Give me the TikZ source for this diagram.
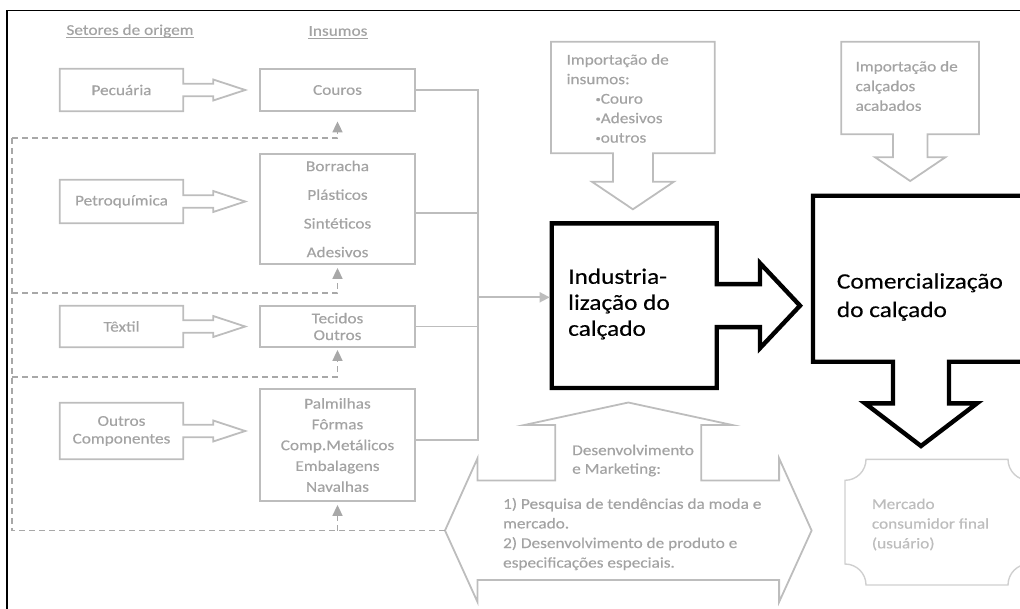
\documentclass[tikz,border=0pt]{standalone}
\usepackage{fontspec}
\setmainfont{Carlito}[FakeStretch=1.15,FakeBold=0.4]
\usetikzlibrary{arrows.meta,calc}
\definecolor{tgray}{HTML}{A3A3A3}
\definecolor{lgray}{HTML}{BDBDBD}
\definecolor{dgray}{HTML}{A8A8A8}
\definecolor{pgray}{HTML}{CFCFCF}
\tikzset{
  gtext/.style={text=tgray, font=\fontsize{15pt}{#1}\selectfont, inner sep=0pt},
  gtext/.default=18pt,
  gline/.style={draw=lgray, line width=1.8pt},
  dline/.style={draw=dgray, line width=1.7pt, dash pattern=on 6pt off 4pt},
  srcbox/.style={gtext=#1, minimum width=123pt, align=center},
  srcbox/.default=18pt,
  inbox/.style={gtext=#1, gline, minimum width=155pt, align=center},
  inbox/.default=18pt,
  bigline/.style={draw=black, line width=4.4pt},
  bigtext/.style={text=black, font=\fontsize{22pt}{#1}\selectfont, inner sep=0pt, align=left},
  upt/.style={-{Triangle[width=10pt,length=11pt]}},
  emptybox/.style={inner sep=0pt, outer sep=0pt},
  uline/.style={draw=tgray, line width=0.9pt},
}
\newcommand\srcoutline[1]{%
  \draw[gline] (#1.north west) -- (#1.north east) -- ([yshift=6.2pt]#1.east)
    -- ++(30,0) -- ++(0,-4.3) -- ++(32,10.5) -- ++(-32,10.5) -- ++(0,-4.3)
    -- ([yshift=-6.2pt]#1.east) -- (#1.south east) -- (#1.south west) -- cycle;}
\newcommand\smallbullet{\hspace*{29pt}\raisebox{1.5pt}{\fontsize{9pt}{9pt}\selectfont •}}
\begin{document}
\begin{tikzpicture}[x=1pt,y=-1pt]
\useasboundingbox (0,0) rectangle (1020,608);
\clip (0,0) rectangle (1020,608);
% frame
\draw[line width=1.4pt] (7,620) -- (7,10.5) -- (1030,10.5);

% headers
\node[gtext] (hs) at (130,31) {Setores de origem};
\node[gtext] (hi) at (338,31) {Insumos};
\draw[uline] ([yshift=-2.5pt]hs.base west) -- ([yshift=-2.5pt]hs.base east);
\draw[uline] ([yshift=-2.5pt]hi.base west) -- ([yshift=-2.5pt]hi.base east);

% source sectors
\node[srcbox, minimum height=42pt] (pec) at (121.5,90) {Pecuária};
\node[srcbox, minimum height=43pt] (pet) at (121.5,201.5) {Petroquímica};
\node[srcbox, minimum height=41pt] (tex) at (121.5,326.5) {Têxtil};
\node[srcbox=17.7pt, minimum height=56pt] (oco) at (121.5,431) {Outros\\Componentes};
\srcoutline{pec}
\srcoutline{pet}
\srcoutline{tex}
\srcoutline{oco}

% inputs
\node[inbox, minimum height=42pt] (cou) at (337.5,90) {Couros};
\node[inbox=28.7pt, minimum height=110pt] (bor) at (337.5,209) {Borracha\\Plásticos\\Sintéticos\\Adesivos};
\node[inbox=16.7pt, minimum height=41pt] (tec) at (337.5,326.5) {Tecidos\\Outros};
\node[inbox=20.8pt, minimum height=111.4pt] (pal) at (337.5,445) {Palmilhas\\Fôrmas\\Comp.Metálicos\\Embalagens\\Navalhas};

% industrialization
\node[emptybox, minimum width=165pt, minimum height=164.7pt] (ind) at (634.2,305.65) {};
\draw[bigline] (ind.north west) -- (ind.north east) -- ([yshift=21.5pt]ind.east)
  -- ++(43.3,0) -- ++(0,-21) -- ++(40,42.5) -- ++(-40,42.5) -- ++(0,-21)
  -- ([yshift=-21.5pt]ind.east) -- (ind.south east) -- (ind.south west) -- cycle;
\node[bigtext=26pt, anchor=west] (indt) at (568,304) {Industria-\\lização do\\calçado};

% commercialization
\draw[bigline] (813,195.7) -- (1045,195.7) -- (1045,361.7) -- (949,361.7) -- (949,403.3)
  -- (977,403.3) -- (921,446) -- (865,403.3) -- (893,403.3) -- (893,361.7) -- (813,361.7) -- cycle;
\node[bigtext=28.5pt, anchor=west] (comt) at (836.7,297) {Comercialização\\do calçado};

% imports of inputs
\draw[gline] (551,41.7) -- (714.7,41.7) -- (714.7,153.3) -- (652.9,153.3) -- (652.9,181.7)
  -- (673.9,181.7) -- (632.9,209.3) -- (591.9,181.7) -- (612.9,181.7) -- (612.9,153.3)
  -- (551,153.3) -- cycle;
\node[gtext=19.5pt, anchor=west, align=left] (imp1) at (566.4,98.5)
  {Importação de\\insumos:\\\smallbullet Couro\\\smallbullet Adesivos\\\smallbullet outros};

% imports of finished shoes
\draw[gline] (841.3,41.7) -- (979,41.7) -- (979,134.3) -- (927.5,134.3) -- (927.5,157.3)
  -- (945.3,157.3) -- (910.2,181) -- (875.1,157.3) -- (892.9,157.3) -- (892.9,134.3)
  -- (841.3,134.3) -- cycle;
\node[gtext=19.7pt, anchor=west, align=left] (imp2) at (855.4,86)
  {Importação de\\calçados\\acabados};

% development and marketing
\draw[gline] (628.3,402.5) -- (732.3,425) -- (701.3,425) -- (701.3,480.5) -- (779.1,480.5)
  -- (779.1,458.3) -- (811.6,530.5) -- (779.1,602) -- (779.1,580) -- (477.5,580)
  -- (477.5,602) -- (445,530.5) -- (477.5,458.3) -- (477.5,480.5) -- (555.3,480.5)
  -- (555.3,425) -- (524.3,425) -- cycle;
\coordinate (devL) at (445,530.5);
\node[gtext=18.6pt, anchor=west, align=left] (dev1) at (572,460.5) {Desenvolvimento\\e Marketing:};
\node[gtext=19.6pt, anchor=west, align=left] (dev2) at (502.9,534)
  {1) Pesquisa de tendências da moda e\\mercado.\\2) Desenvolvimento de produto e\\especificações especiais.};

% final market (plaque)
\draw[draw=pgray, line width=1.4pt] (866,459.3) -- (1008,459.3)
  .. controls (1008,470.9) and (1017.4,480.3) .. (1029,480.3) -- (1029,564)
  .. controls (1017.4,564) and (1008,573.4) .. (1008,585) -- (866,585)
  .. controls (866,573.4) and (856.6,564) .. (845,564) -- (845,480.3)
  .. controls (856.6,480.3) and (866,470.9) .. (866,459.3) -- cycle;
\node[gtext=19.7pt, text=lgray, anchor=west, align=left] (mer) at (871.7,524.5)
  {Mercado\\consumidor final\\(usuário)};

% solid connectors inputs -> industrialization
\coordinate (bt) at (478,90);
\coordinate (bb) at (478,440);
\coordinate (bm) at (478,297.3);
\draw[gline] (cou.east) -- (bt) -- (bb) -- ([yshift=5pt]pal.east);
\draw[gline] ([yshift=-4pt]bor.east) -- ([yshift=-4pt]bor.east -| bt);
\draw[gline] (tec.east) -- (tec.east -| bt);
\draw[gline, -{Triangle[width=10pt,length=10pt]}, shorten >=2pt] (bm) -- (bm -| ind.west);

% dashed feedback from development
\draw[dline] (devL) -- (12,530.5) -- (12,138);
\draw[dline, upt, shorten >=9.5pt] (12,138) -| (cou.south);
\draw[dline, upt, shorten >=3pt] (12,293) -| (bor.south);
\draw[dline, upt, shorten >=2pt] (12,376.7) -| (tec.south);
\draw[dline, upt, shorten >=3.3pt] (pal.south |- devL) -- (pal.south);
\end{tikzpicture}
\end{document}
